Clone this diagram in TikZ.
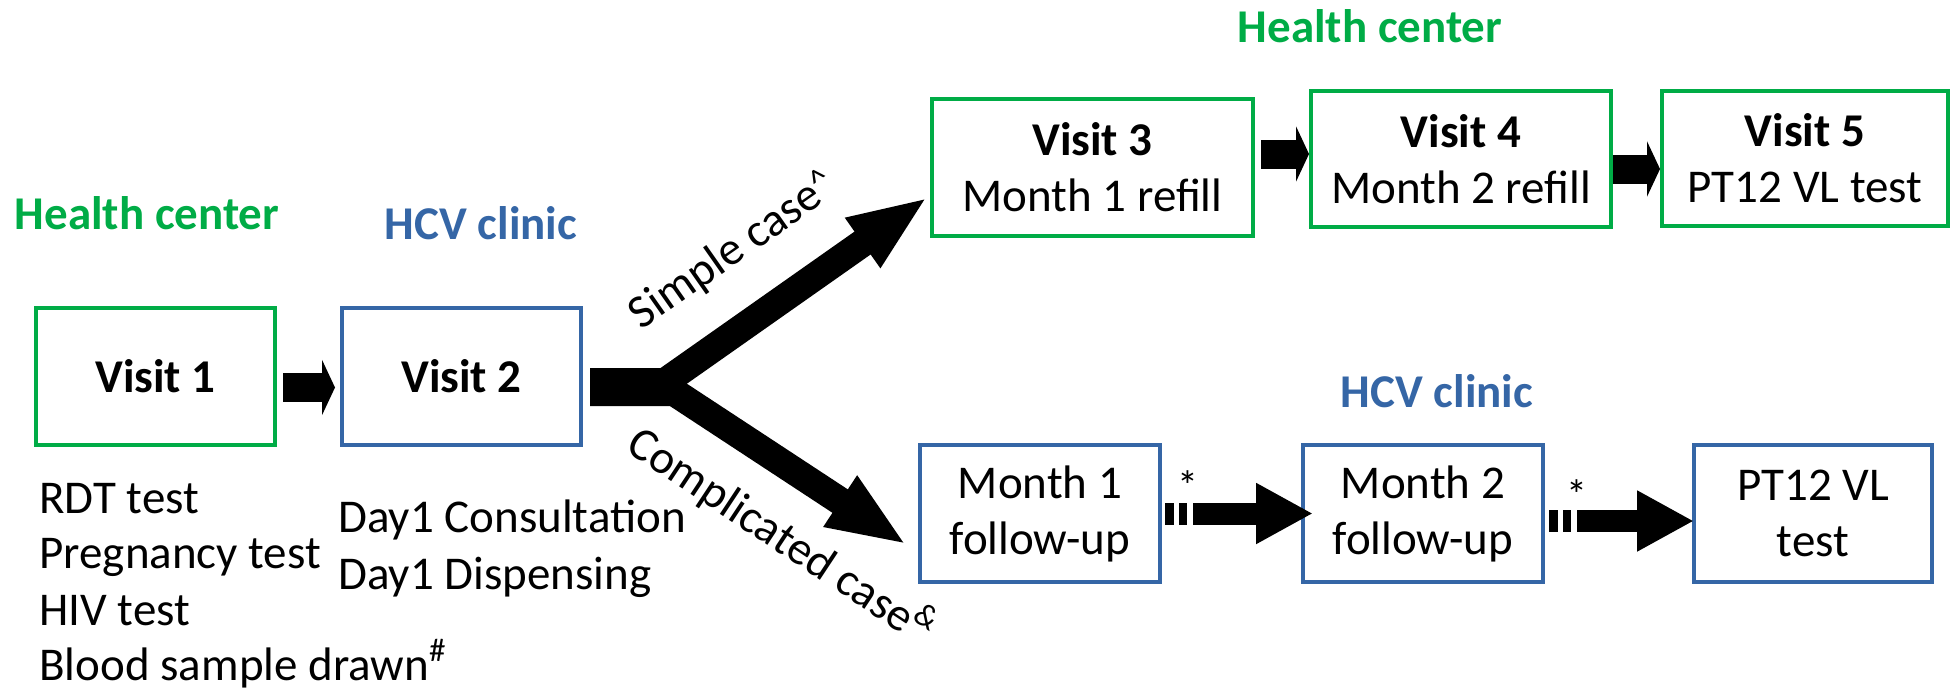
\documentclass[tikz,border=0pt]{standalone}
\usepackage{fontspec}
\setmainfont{Carlito}
\usetikzlibrary{arrows.meta,calc}
\definecolor{hgreen}{HTML}{00AC46}
\definecolor{hblue}{HTML}{3566A6}
\begin{document}
\begin{tikzpicture}[x=0.5pt,y=-0.5pt,
  box/.style={draw,line width=2pt,inner sep=0pt,align=center,minimum height=68.5pt,
    font=\fontsize{23.5}{28}\selectfont},
  gbox/.style={box,draw=hgreen},
  bbox/.style={box,draw=hblue},
  txt/.style={inner sep=0pt,font=\fontsize{23.5}{28}\selectfont},
  headtxt/.style={inner sep=0pt,font=\fontsize{23.5}{28}\selectfont\bfseries},
  star/.style={inner sep=0pt,font=\fontsize{21}{21}\selectfont},
  blk/.style={line width=14.5pt,-{Triangle[length=6.5pt,width=27.5pt]}},
  brarrow/.style={line width=14pt,line join=miter,-{Triangle[length=40pt,width=27.5pt]}},
  dsharrow/.style={line width=11pt,dash pattern=on 4.5pt off 2.5pt on 4pt off 3pt on 400pt off 1pt,
    -{Triangle[length=28.5pt,width=28.5pt]}}
]
\useasboundingbox (0,0) rectangle (1957,690);

% headings
\node[headtxt,text=hgreen,anchor=base] (hc1) at (147,229) {Health center};
\node[headtxt,text=hblue,anchor=base] (hcv1) at (481,239) {HCV clinic};
\node[headtxt,text=hgreen,anchor=base] (hc2) at (1370,43) {Health center};
\node[headtxt,text=hblue,anchor=base] (hcv2) at (1437,407) {HCV clinic};

% boxes
\node[gbox,minimum width=119.5pt] (v1) at (155.5,376.5) {\textbf{Visit 1}};
\node[bbox,minimum width=119.5pt] (v2) at (461.5,376.5) {\textbf{Visit 2}};
\node[gbox,minimum width=160.5pt] (v3) at (1092.5,167.5) {\textbf{Visit 3}\\Month 1 refill};
\node[gbox,minimum width=150pt,minimum height=68pt] (v4) at (1461,159) {\textbf{Visit 4}\\Month 2 refill};
\node[gbox,minimum width=143pt,minimum height=67.5pt] (v5) at (1805,158.5) {\textbf{Visit 5}\\PT12 VL test};
\node[bbox,minimum width=120pt] (m1) at (1040,513.5) {Month 1\\follow-up};
\node[bbox,minimum width=120pt] (m2) at (1423,513.5) {Month 2\\follow-up};
\node[bbox,minimum width=119pt] (m3) at (1813,513.5) {PT12 VL\\test};

% lists
\node[txt,anchor=base west] (r1) at (39,513) {RDT test};
\node[txt,anchor=base west] (r2) at (39,568) {Pregnancy test};
\node[txt,anchor=base west] (r3) at (39,625) {HIV test};
\node[txt,anchor=base west] (r4) at (39,680) {Blood sample drawn\textsuperscript{\#}};
\node[txt,anchor=base west] (d1) at (338,532) {Day1 Consultation};
\node[txt,anchor=base west] (d2) at (338,589) {Day1 Dispensing};

% simple arrows
\draw[blk] ($(v1.east)+(6,11)$) coordinate (a12) -- ($(a12 -| v2.west)+(-5,0)$);
\draw[blk] ($(v3.east)+(6,-13.5)$) coordinate (a34) -- (a34 -| v4.west);
\draw[blk] ($(v4.east)+(0,10)$) coordinate (a45) -- (a45 -| v5.west);

% branching arrows
\coordinate (j1) at ($(v2.east)+(82,5.5)$);
\coordinate (j2) at ($(v2.east)+(91,15.5)$);
\draw[brarrow] ($(v2.east)+(7,5.5)$) -- (j1) -- ($(v3.west)+(-2,29.5)$);
\draw[brarrow] ($(v2.east)+(7,15.5)$) -- (j2) -- ($(m1.west)+(-11,31.5)$);
\node[txt,rotate=35] (simple) at (733,251) {Simple case\raisebox{5pt}{\fontsize{17}{17}\selectfont\textasciicircum}};
\node[txt,rotate=-33.5] (compl) at (782,535) {Complicated case\textsuperscript{\&}};

% dashed arrows
\draw[dsharrow] ($(m1.east)+(3,0)$) coordinate (b12) -- ($(b12 -| m2.west)+(12,0)$);
\draw[dsharrow] ($(m2.east)+(4,7.5)$) coordinate (b23) -- ($(b23 -| m3.west)+(2,0)$);
\node[star] (s1) at (1188,486) {*};
\node[star] (s2) at (1577,495) {*};
\end{tikzpicture}
\end{document}
